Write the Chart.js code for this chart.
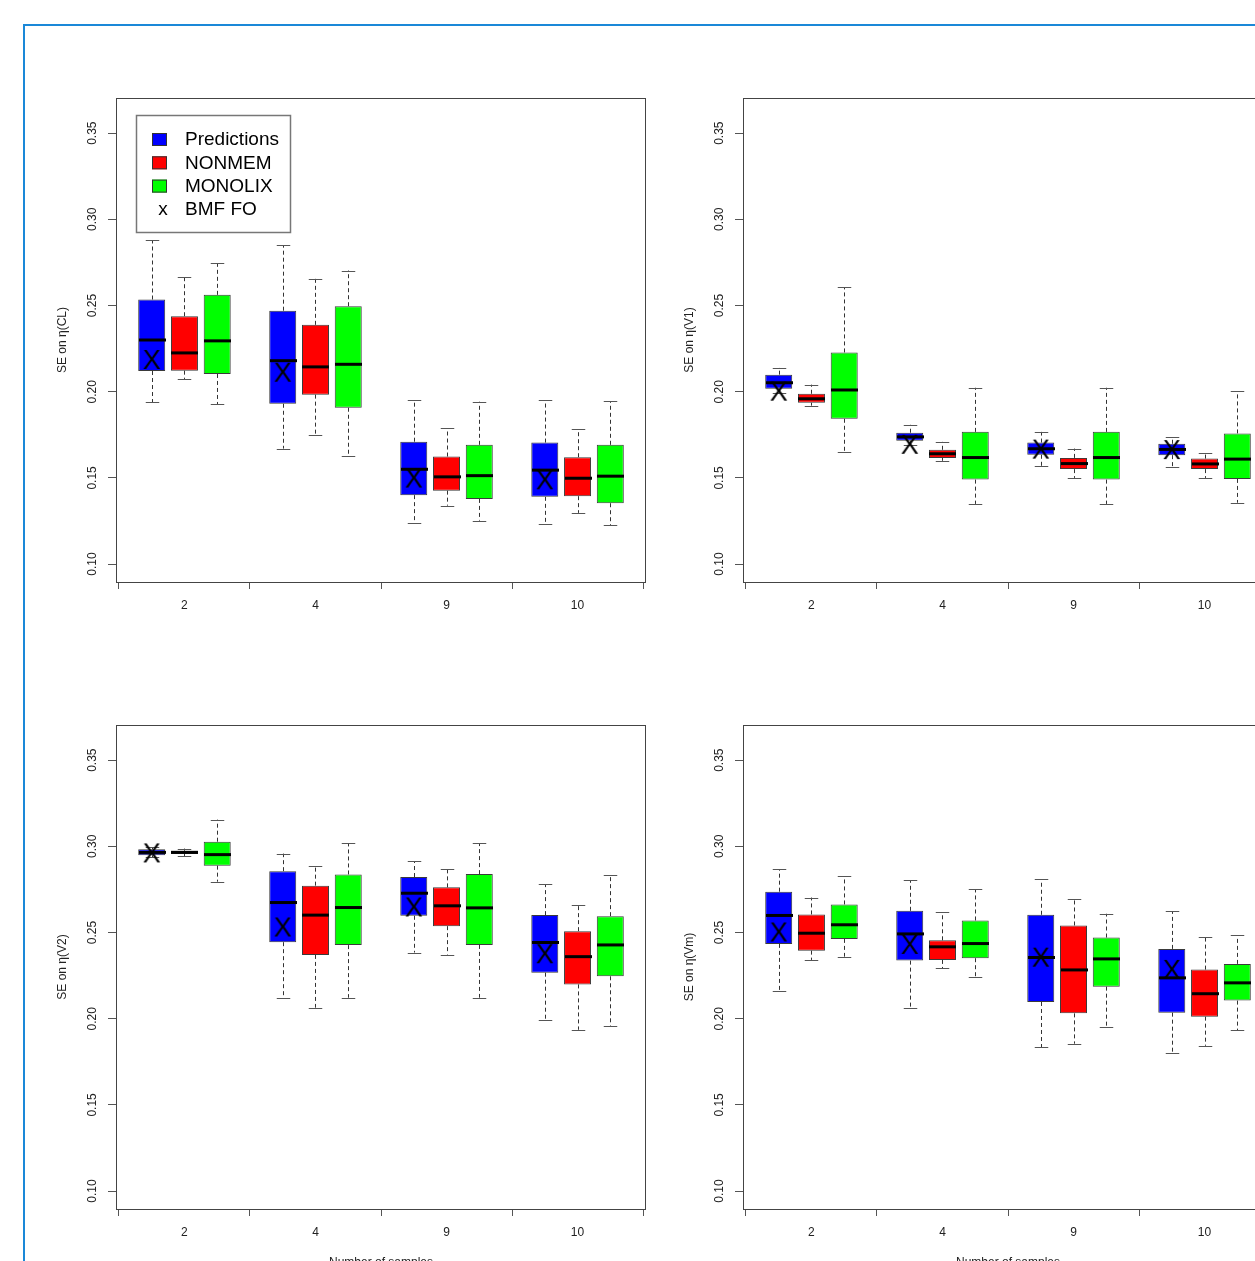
<!DOCTYPE html>
<html>
<head>
<meta charset="utf-8">
<title>SE on η by number of samples</title>
<script src="https://cdn.jsdelivr.net/npm/chart.js@4.4.1/dist/chart.umd.min.js"></script>
<style>
  html, body { margin: 0; padding: 0; background: #fff; overflow: hidden; width: 1255px; height: 1261px; }
  #frame { position: absolute; left: 23px; top: 24px; width: 1400px; height: 1400px;
           border-left: 2px solid #1a88d8; border-top: 2px solid #1a88d8; }
  canvas { position: absolute; }
</style>
</head>
<body>
<div id="frame"></div>
<canvas id="pCL" width="640" height="532" style="left:30px;top:90px"></canvas>
<canvas id="pV1" width="640" height="532" style="left:657px;top:90px"></canvas>
<canvas id="pV2" width="640" height="553" style="left:30px;top:717px"></canvas>
<canvas id="pVm" width="640" height="553" style="left:657px;top:717px"></canvas>
<script>
// Categories and tick labels
const sampleCounts = ['2', '4', '9', '10'];
const methods = ['Predictions', 'NONMEM', 'MONOLIX'];
const bmfLabel = 'BMF FO';
const yTickValues = [0.10, 0.15, 0.20, 0.25, 0.30, 0.35];
const yLimits = [0.10, 0.36];

// Five-number summaries per sample count: [lower whisker, Q1, median, Q3, upper whisker]
const clPredictions = [[0.194, 0.212, 0.230, 0.2535, 0.288], [0.167, 0.193, 0.218, 0.247, 0.285], [0.124, 0.140, 0.155, 0.171, 0.195], [0.123, 0.139, 0.1545, 0.1705, 0.195]];
const clNonmem      = [[0.2074, 0.2122, 0.2225, 0.2438, 0.2667], [0.175, 0.1983, 0.2144, 0.2388, 0.2655], [0.1339, 0.1426, 0.1506, 0.1624, 0.1789], [0.1297, 0.1394, 0.1498, 0.162, 0.1783]];
const clMonolix     = [[0.1926, 0.2103, 0.2295, 0.2562, 0.2744], [0.1628, 0.1907, 0.2159, 0.2496, 0.2703], [0.1252, 0.1378, 0.1513, 0.1692, 0.1942], [0.1225, 0.1353, 0.151, 0.1692, 0.1944]];
const clBmf         = [0.219, 0.2116, 0.1502, 0.1492];

const v1Predictions = [[0.1994, 0.2017, 0.2052, 0.2099, 0.214], [0.1692, 0.1715, 0.1738, 0.1762, 0.1808], [0.157, 0.1634, 0.1669, 0.1705, 0.1767], [0.1566, 0.1632, 0.1665, 0.1698, 0.1738]];
const v1Nonmem      = [[0.1919, 0.1936, 0.1959, 0.1988, 0.2041], [0.1599, 0.1616, 0.164, 0.1663, 0.1709], [0.15, 0.1551, 0.1583, 0.1616, 0.167], [0.15, 0.1551, 0.1581, 0.1612, 0.1647]];
const v1Monolix     = [[0.1651, 0.1843, 0.201, 0.2228, 0.2605], [0.1349, 0.149, 0.1618, 0.1767, 0.2023], [0.1349, 0.149, 0.1618, 0.1767, 0.2023], [0.1356, 0.1494, 0.1609, 0.1758, 0.2002]];
const v1Bmf         = [0.2006, 0.1698, 0.167, 0.1667];

const v2Predictions = [[0.2936, 0.2948, 0.2965, 0.2983, 0.2994], [0.2122, 0.2444, 0.2674, 0.2856, 0.2958], [0.2384, 0.2597, 0.2728, 0.2822, 0.2913], [0.1994, 0.2267, 0.2442, 0.2601, 0.2779]];
const v2Nonmem      = [[0.2942, 0.2956, 0.2965, 0.2974, 0.2987], [0.2064, 0.237, 0.2601, 0.2772, 0.2884], [0.2372, 0.2537, 0.2655, 0.2762, 0.2866], [0.1936, 0.2199, 0.236, 0.2508, 0.2661]];
const v2Monolix     = [[0.2795, 0.2888, 0.2952, 0.3027, 0.3155], [0.2122, 0.2427, 0.2645, 0.2837, 0.3019], [0.2122, 0.2428, 0.2643, 0.2839, 0.3019], [0.1959, 0.2246, 0.2428, 0.2595, 0.2831]];
const v2Bmf         = [0.2965, 0.2535, 0.2651, 0.238];

const vmPredictions = [[0.2163, 0.2434, 0.2599, 0.2737, 0.2868], [0.206, 0.2337, 0.2492, 0.2626, 0.2802], [0.1833, 0.2097, 0.2355, 0.2603, 0.2808], [0.1802, 0.2035, 0.2237, 0.2405, 0.2622]];
const vmNonmem      = [[0.2341, 0.2395, 0.2496, 0.2605, 0.2703], [0.2292, 0.2341, 0.2417, 0.2455, 0.2618], [0.1855, 0.2031, 0.2283, 0.2541, 0.2692], [0.1843, 0.2012, 0.2145, 0.2285, 0.2473]];
const vmMonolix     = [[0.236, 0.2463, 0.2545, 0.2663, 0.2826], [0.2244, 0.2351, 0.2436, 0.257, 0.275], [0.1953, 0.2186, 0.2347, 0.2471, 0.2609], [0.1934, 0.2105, 0.2208, 0.2318, 0.2483]];
const vmBmf         = [0.2506, 0.2434, 0.236, 0.2289];

// Styling
const FONT = '"Liberation Sans", Arial, Helvetica, sans-serif';
const methodColors = ['#0000ff', '#ff0000', '#00ff00'];
const BOX_WIDTH = 27;
Chart.defaults.font.family = FONT;
Chart.defaults.font.size = 12;
Chart.defaults.color = '#222';

// "X" glyph used as the point style of the BMF FO markers
const xGlyph = (() => {
  const c = document.createElement('canvas');
  c.width = 28; c.height = 28;
  const g = c.getContext('2d');
  g.font = '27px ' + FONT;
  g.fillStyle = '#000';
  g.textAlign = 'center';
  g.textBaseline = 'alphabetic';
  const m = g.measureText('X');
  const asc = m.actualBoundingBoxAscent || 19.3;
  g.fillText('X', 14, 14 + asc / 2);
  return c;
})();

// Whiskers, caps and medians drawn right after each box dataset
const whiskerPlugin = {
  id: 'whiskers',
  afterDatasetDraw(chart, args) {
    const meta = args.meta;
    if (meta.type !== 'bar') return;
    const ds = chart.data.datasets[args.index];
    const xs = chart.scales.x, ys = chart.scales.y;
    const ctx = chart.ctx;
    ctx.save();
    ds.five.forEach((f, i) => {
      const x = Math.round(xs.getPixelForValue(ds.data[i].x)) + 0.5;
      const [lo, q1, med, q3, hi] = f.map(v => ys.getPixelForValue(v));
      const half = BOX_WIDTH / 2, cap = BOX_WIDTH / 4;
      // dashed whiskers
      ctx.strokeStyle = '#333';
      ctx.lineWidth = 1;
      ctx.setLineDash([4, 3]);
      ctx.beginPath();
      ctx.moveTo(x, q3); ctx.lineTo(x, hi);
      ctx.moveTo(x, q1); ctx.lineTo(x, lo);
      ctx.stroke();
      // caps
      ctx.setLineDash([]);
      ctx.strokeStyle = '#555';
      ctx.beginPath();
      ctx.moveTo(x - cap, Math.round(hi) + 0.5); ctx.lineTo(x + cap, Math.round(hi) + 0.5);
      ctx.moveTo(x - cap, Math.round(lo) + 0.5); ctx.lineTo(x + cap, Math.round(lo) + 0.5);
      ctx.stroke();
      // median
      ctx.strokeStyle = '#000';
      ctx.lineWidth = 3;
      ctx.beginPath();
      ctx.moveTo(x - half, med); ctx.lineTo(x + half, med);
      ctx.stroke();
    });
    ctx.restore();
  }
};

// Plot frame around the chart area
const framePlugin = {
  id: 'frame',
  afterDraw(chart) {
    const a = chart.chartArea, ctx = chart.ctx;
    ctx.save();
    ctx.strokeStyle = '#444';
    ctx.lineWidth = 1;
    ctx.strokeRect(a.left + 0.5, a.top + 0.5, a.right - a.left - 1, a.bottom - a.top);
    ctx.restore();
  }
};

// Framed legend in the top-left corner of the plot
const boxLegendPlugin = {
  id: 'boxLegend',
  afterDraw(chart, args, opts) {
    if (!opts || !opts.display) return;
    const a = chart.chartArea, ctx = chart.ctx;
    const left = a.left + 20, top = a.top + 17, w = 154, h = 117;
    ctx.save();
    ctx.fillStyle = '#fff';
    ctx.fillRect(left, top, w, h);
    ctx.strokeStyle = '#777';
    ctx.lineWidth = 1.5;
    ctx.strokeRect(left + 0.5, top + 0.5, w, h);
    ctx.font = '19px ' + FONT;
    ctx.textBaseline = 'middle';
    const rowY = i => top + 25 + i * 23.3;
    chart.data.datasets.forEach((ds, i) => {
      const y = rowY(i);
      if (ds.type === 'bar') {
        ctx.fillStyle = ds.backgroundColor;
        ctx.fillRect(left + 16, y - 7, 15, 13);
        ctx.strokeStyle = '#333';
        ctx.lineWidth = 1;
        ctx.strokeRect(left + 16.5, y - 6.5, 14, 12);
      } else {
        ctx.fillStyle = '#000';
        ctx.textAlign = 'center';
        ctx.fillText('x', left + 27, y);
      }
      ctx.fillStyle = '#000';
      ctx.textAlign = 'left';
      ctx.fillText(ds.label, left + 49, y);
    });
    ctx.restore();
  }
};

function makePanel(id, yTitle, series, bmf, showXTitle, showLegend) {
  const n = sampleCounts.length;
  const xTicks = Array.from({ length: 2 * n + 1 }, (_, i) => 2 * i);
  const span = yLimits[1] - yLimits[0];
  const datasets = series.map((s, k) => ({
    type: 'bar',
    label: methods[k],
    five: s,
    data: s.map((f, g) => ({ x: 4 * g + k + 1, y: [f[1], f[3]] })),
    backgroundColor: methodColors[k],
    borderColor: '#3a3a3a',
    borderWidth: 1,
    borderSkipped: false,
    inflateAmount: 0,
    barThickness: BOX_WIDTH,
    grouped: false,
    order: 2
  }));
  datasets.push({
    type: 'scatter',
    label: bmfLabel,
    data: bmf.map((v, g) => ({ x: 4 * g + 1, y: v })),
    pointStyle: xGlyph,
    pointRadius: 10,
    order: 0
  });
  const tickCol = c => (c.tick && c.tick.value % 4 === 0) ? '#555' : 'rgba(0,0,0,0)';
  return new Chart(document.getElementById(id), {
    type: 'bar',
    data: { datasets },
    plugins: [whiskerPlugin, framePlugin, boxLegendPlugin],
    options: {
      responsive: false,
      animation: false,
      devicePixelRatio: 1,
      events: [],
      layout: { autoPadding: false, padding: { top: 8, right: 24, left: 0, bottom: 0 } },
      plugins: {
        legend: { display: false },
        tooltip: { enabled: false },
        boxLegend: { display: showLegend }
      },
      scales: {
        x: {
          type: 'linear',
          min: -0.09,
          max: 4 * n + 0.09,
          offset: false,
          afterBuildTicks: s => { s.ticks = xTicks.map(v => ({ value: v })); },
          grid: { drawOnChartArea: false, offset: false, tickLength: 7, color: tickCol, tickColor: tickCol, lineWidth: 1 },
          border: { display: false },
          ticks: {
            autoSkip: false, maxRotation: 0, minRotation: 0, padding: 9, color: '#222',
            font: { size: 12 },
            callback: v => (v % 4 === 2 ? sampleCounts[(v - 2) / 4] : '')
          },
          title: { display: showXTitle, text: 'Number of samples', color: '#222', font: { size: 12 }, padding: { top: 0, bottom: 0 } },
          afterFit: s => { s.height = showXTitle ? 61 : 40; s.paddingLeft = 0; s.paddingRight = 0; }
        },
        y: {
          min: yLimits[0] - 0.04 * span,
          max: yLimits[1] + 0.04 * span,
          afterBuildTicks: s => { s.ticks = yTickValues.map(v => ({ value: v })); },
          grid: { drawOnChartArea: false, tickLength: 8, color: '#555' },
          border: { display: false },
          ticks: {
            minRotation: 90, maxRotation: 90, crossAlign: 'center', padding: 4, color: '#222',
            font: { size: 12 },
            callback: v => Number(v).toFixed(2)
          },
          title: { display: true, text: yTitle, color: '#222', font: { size: 12 }, padding: { top: 25, bottom: 0 } },
          afterFit: s => { s.width = 86; s.paddingTop = 0; s.paddingBottom = 0; }
        }
      }
    }
  });
}

makePanel('pCL', 'SE on η(CL)', [clPredictions, clNonmem, clMonolix], clBmf, false, true);
makePanel('pV1', 'SE on η(V1)', [v1Predictions, v1Nonmem, v1Monolix], v1Bmf, false, false);
makePanel('pV2', 'SE on η(V2)', [v2Predictions, v2Nonmem, v2Monolix], v2Bmf, true, false);
makePanel('pVm', 'SE on η(Vm)', [vmPredictions, vmNonmem, vmMonolix], vmBmf, true, false);
</script>
</body>
</html>
